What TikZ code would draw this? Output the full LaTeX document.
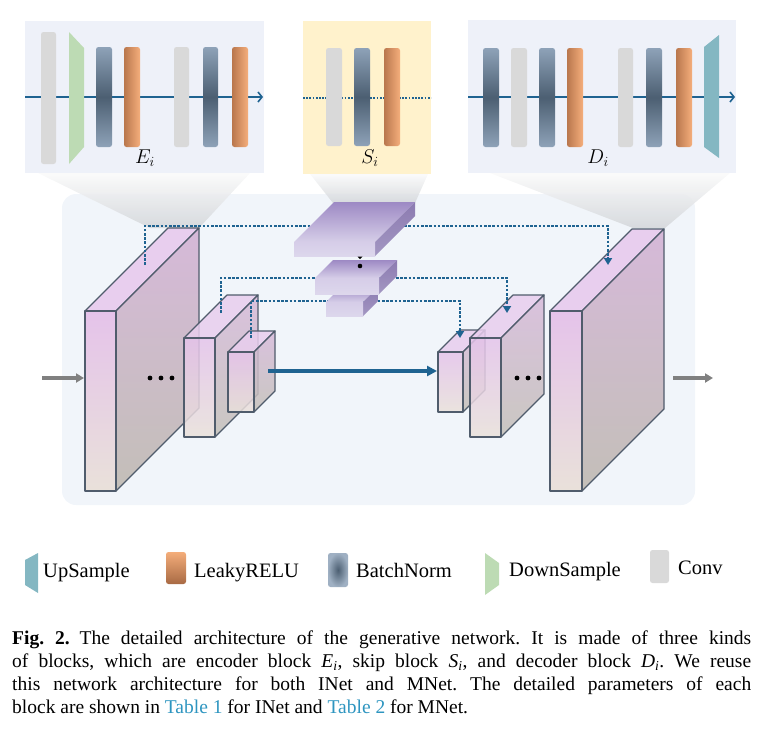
\RequirePackage{fix-cm}
\documentclass[tikz,border=0pt]{standalone}
\usepackage{fontspec}
\setmainfont{Liberation Serif}
\usetikzlibrary{arrows.meta}
\definecolor{panelE}{HTML}{EEF1F9}
\definecolor{panelS}{HTML}{FFF2CC}
\definecolor{mainbg}{HTML}{F1F5FA}
\definecolor{convgray}{HTML}{D9D9D9}
\definecolor{bnl}{HTML}{8EA2B8}
\definecolor{bnd}{HTML}{4C5F72}
\definecolor{orl}{HTML}{B9774D}
\definecolor{orr}{HTML}{F5AE7C}
\definecolor{ortop}{HTML}{F4AD7A}
\definecolor{orbot}{HTML}{A86A44}
\definecolor{greenD}{HTML}{BDDBB4}
\definecolor{tealU}{HTML}{84B7C2}
\definecolor{lineblue}{HTML}{1F6391}
\definecolor{edgecol}{HTML}{505C6C}
\definecolor{linkblue}{HTML}{2E95C0}
\definecolor{arrgray}{HTML}{808080}
\definecolor{ctopc}{HTML}{E8CEEE}
\definecolor{csidet}{HTML}{D6B9D9}
\definecolor{csideb}{HTML}{C3BFB8}
\definecolor{cfrontt}{HTML}{E5C3EA}
\definecolor{cfrontb}{HTML}{E9E1DA}
\definecolor{stopt}{HTML}{9D89C4}
\definecolor{stopb}{HTML}{D6CEE8}
\definecolor{ssidet}{HTML}{8C7BB1}
\definecolor{ssideb}{HTML}{A397C2}
\definecolor{sfrontt}{HTML}{D6CDE8}
\definecolor{sfrontb}{HTML}{DDD7EC}
\newcommand\mkprism[9]{%
  \coordinate (#1-ftl) at (#2,#3);
  \coordinate (#1-ftr) at (#2+#4,#3);
  \coordinate (#1-fbr) at (#2+#4,#3+#5);
  \coordinate (#1-btl) at (#2+#6,#3-#6);
  \coordinate (#1-btr) at (#2+#4+#6,#3-#6);
  \coordinate (#1-bbr) at (#2+#4+#6,#3+#5-#6);
  \path[#7] (#1-ftl) -- (#1-btl) -- (#1-btr) -- (#1-ftr) -- cycle;
  \path[#8] (#1-ftr) -- (#1-btr) -- (#1-bbr) -- (#1-fbr) -- cycle;
  \path[#9] (#1-ftl) rectangle (#1-fbr);
}
\begin{document}
\begin{tikzpicture}[x=1pt,y=-1pt,
  convbar/.style={fill=convgray, rounded corners=2.5pt},
  bnbar/.style={rounded corners=2.5pt, top color=bnl, bottom color=bnl, middle color=bnd},
  lrbar/.style={rounded corners=2.5pt, left color=orl, right color=orr},
  funnel/.style={top color=white!96!gray, bottom color=gray!25!mainbg, fill opacity=0.9},
  ctop/.style={fill=ctopc, draw=edgecol, line width=1.2pt, line join=round},
  cside/.style={top color=csidet, bottom color=csideb, draw=edgecol, line width=1.2pt, line join=round},
  cfront/.style={top color=cfrontt, bottom color=cfrontb, draw=edgecol, line width=1.2pt, line join=round},
  stop/.style={top color=stopt, bottom color=stopb},
  sside/.style={top color=ssidet, bottom color=ssideb},
  sfront/.style={top color=sfrontt, bottom color=sfrontb},
  skipline/.style={draw=lineblue, line width=2.8pt, dash pattern=on 2.6pt off 1.6pt, -{Triangle[length=7pt,width=8pt]}},
  panelarrow/.style={draw=lineblue, line width=1.6pt, -{Straight Barb[length=4pt,width=10pt]}},
  grayarrow/.style={draw=arrgray, line width=3.2pt, -{Triangle[length=8pt,width=9pt]}},
  lbl/.style={font=\fontsize{20}{24}\selectfont, inner sep=0pt},
  legtxt/.style={font=\fontsize{20.5}{24}\selectfont, inner sep=0pt, anchor=base west},
  dotc/.style={fill=black}
]
\useasboundingbox (0,0) rectangle (773,734);

% ---------- top panels ----------
\fill[panelE] (25,21) rectangle (264,173);
\fill[panelS] (303,21) rectangle (431,174);
\fill[panelE] (468,20) rectangle (736,173);

% ---------- main panel ----------
\fill[mainbg, rounded corners=14pt] (62,194) rectangle (695,505);

% ---------- funnels ----------
\path[funnel] (38,173) -- (250,173) -- (199,228) -- (150,228) -- cycle;
\path[funnel] (310,174) -- (428,174) -- (415,203) -- (333,203) -- cycle;
\path[funnel] (490,173) -- (730,173) -- (665,228) -- (633,228) -- cycle;

% ---------- encoder panel ----------
\coordinate (ea) at (25,97);
\coordinate (eb) at (263,97);
\draw[panelarrow] (ea) -- (eb);
\path[convbar] (41,32) rectangle (56,164);
\fill[greenD] (69,32) -- (84,48) -- (84,147) -- (69,164) -- cycle;
\path[bnbar] (96,47) rectangle (112,147);
\path[lrbar] (124,47) rectangle (140,147);
\path[convbar] (174,47) rectangle (189,147);
\path[bnbar] (203,47) rectangle (218,147);
\path[lrbar] (232,47) rectangle (248,147);
\node[lbl] (elab) at (145,158) {$E_i$};

% ---------- skip panel ----------
\coordinate (sa) at (303,98);
\coordinate (sb) at (431,98);
\draw[draw=lineblue, line width=1.8pt, dash pattern=on 1.8pt off 1.4pt] (sa) -- (sb);
\path[convbar] (326,48) rectangle (342,146);
\path[bnbar] (354,48) rectangle (370,146);
\path[lrbar] (384,48) rectangle (400,146);
\node[lbl] (slab) at (370,158) {$S_i$};

% ---------- decoder panel ----------
\coordinate (da) at (468,97);
\coordinate (db) at (735,97);
\draw[panelarrow] (da) -- (db);
\path[bnbar] (483,48) rectangle (499,147);
\path[convbar] (511,48) rectangle (527,147);
\path[bnbar] (539,48) rectangle (555,147);
\path[lrbar] (567,48) rectangle (583,147);
\path[convbar] (618,48) rectangle (633,147);
\path[bnbar] (646,48) rectangle (662,147);
\path[lrbar] (676,48) rectangle (692,147);
\fill[tealU] (704,47) -- (719,35) -- (719,158) -- (704,147) -- cycle;
\node[lbl] (dlab) at (598,158) {$D_i$};

% ---------- encoder cuboids ----------
\mkprism{E1}{85}{311}{31}{180}{83}{ctop}{cside}{cfront}
\begin{scope}[fill opacity=0.85]
\mkprism{E2}{184}{338}{31}{99}{43}{ctop}{cside}{cfront}
\mkprism{E3}{228}{352}{26}{60}{21}{ctop}{cside}{cfront}
\end{scope}

% ---------- decoder cuboids ----------
\begin{scope}[fill opacity=0.85]
\mkprism{D3}{438}{352}{25}{60}{22}{ctop}{cside}{cfront}
\mkprism{D2}{470}{338}{31}{99}{43}{ctop}{cside}{cfront}
\end{scope}
\mkprism{D1}{550}{311}{32}{180}{82}{ctop}{cside}{cfront}

% ---------- skip connections ----------
\coordinate (k1s) at (145,265);
\coordinate (k1b) at (608,226);
\coordinate (k1e) at (608,265);
\coordinate (k2s) at (221,313);
\coordinate (k2b) at (507,278);
\coordinate (k2e) at (507,313);
\coordinate (k3s) at (251,338);
\coordinate (k3b) at (460,301);
\coordinate (k3e) at (460,338);
\draw[skipline] (k1s) |- (k1b) -- (k1e);
\draw[skipline] (k2s) |- (k2b) -- (k2e);
\draw[skipline] (k3s) |- (k3b) -- (k3e);

% ---------- skip slabs ----------
\mkprism{S3}{326}{302}{37}{14}{15}{stop}{sside}{sfront}
\mkprism{S2}{315}{278}{64}{16}{18}{stop}{sside}{sfront}
\mkprism{S1}{294}{242}{81}{14}{40}{stop}{sside}{sfront}
\fill[black] (357.5,256.5) -- (362.5,256.5) -- (360,259) -- cycle;
\fill[black] (360,266) circle (2.3);

% ---------- bottleneck arrow ----------
\coordinate (bs) at (268,371);
\coordinate (be) at (437,371);
\draw[draw=lineblue, line width=3.5pt, -{Triangle[length=10pt,width=10pt]}] (bs) -- (be);

% ---------- in/out arrows ----------
\coordinate (ins) at (42,378);
\coordinate (ine) at (84,378);
\coordinate (outs) at (673,378);
\coordinate (oute) at (713,378);
\draw[grayarrow] (ins) -- (ine);
\draw[grayarrow] (outs) -- (oute);

% ---------- dots ----------
\foreach \xx in {150,161,172} \fill[dotc] (\xx,378) circle (2.4);
\foreach \xx in {517,528,539} \fill[dotc] (\xx,378) circle (2.4);

% ---------- legend ----------
\fill[tealU] (25,560) -- (38,553) -- (38,593) -- (25,585) -- cycle;
\node[legtxt] (lup) at (43,577) {UpSample};
\path[rounded corners=2.5pt, top color=ortop, bottom color=orbot] (166,552) rectangle (186,584);
\node[legtxt] (llr) at (194,577) {LeakyRELU};
\path[rounded corners=2.5pt, inner color=bnd, outer color=bnl!85!white, shading=radial] (328,553) rectangle (348,587);
\node[legtxt] (lbn) at (356,577) {BatchNorm};
\fill[greenD] (485,553) -- (499,563) -- (499,585) -- (485,595) -- cycle;
\node[legtxt] (lds) at (509,576) {DownSample};
\path[convbar] (650,550) rectangle (669,583);
\node[legtxt] (lcv) at (678,574) {Conv};

% ---------- caption ----------
\node[anchor=north west, inner sep=0pt, text width=739pt, align=justify,
      font=\fontsize{19.5}{23}\selectfont\frenchspacing] (cap) at (12,631)
{\textbf{Fig.~2.}\hspace{0.5em}The detailed architecture of the generative network. It is made of three kinds\linebreak
of blocks, which are encoder block \textit{E}\textsubscript{\textit{i}}, skip block \textit{S}\textsubscript{\textit{i}}, and decoder block \textit{D}\textsubscript{\textit{i}}. We reuse\linebreak
this network architecture for both INet and MNet. The detailed parameters of each\linebreak
block are shown in \textcolor{linkblue}{Table 1} for INet and \textcolor{linkblue}{Table 2} for MNet.};
\end{tikzpicture}
\end{document}
